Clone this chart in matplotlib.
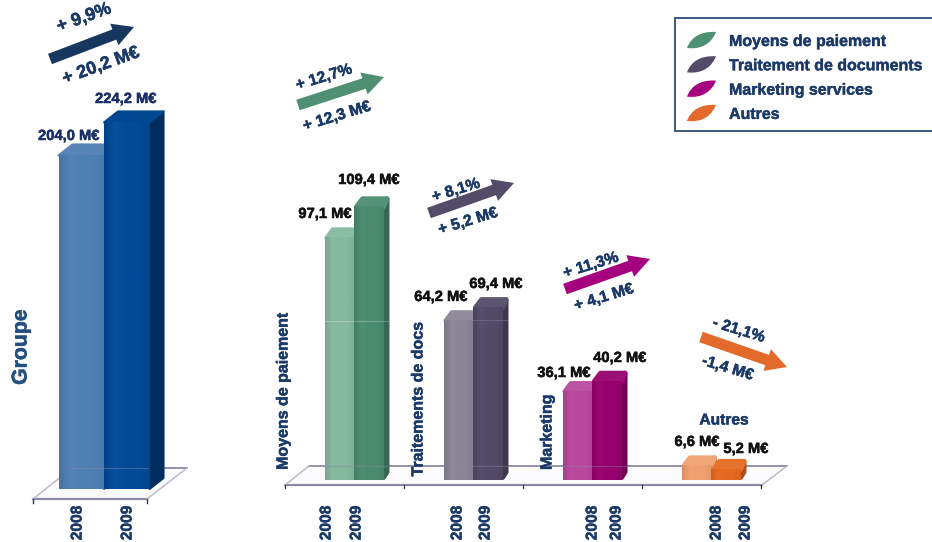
import numpy as np
import matplotlib
matplotlib.use("Agg")
import matplotlib.pyplot as plt
import matplotlib.patheffects as pe
from matplotlib.colors import LinearSegmentedColormap, to_rgb
from matplotlib.patches import Polygon, PathPatch, Rectangle, FancyArrow
from matplotlib.path import Path

plt.rcParams['font.family'] = ['Liberation Sans', 'DejaVu Sans']

# ---- data ----
years = ["2008", "2009"]
group_values = [204.0, 224.2]
group_labels = ["204,0 M€", "224,2 M€"]
segments = ["Moyens de paiement", "Traitements de docs", "Marketing", "Autres"]
values_2008 = [97.1, 64.2, 36.1, 6.6]
values_2009 = [109.4, 69.4, 40.2, 5.2]
labels_2008 = ["97,1 M€", "64,2 M€", "36,1 M€", "6,6 M€"]
labels_2009 = ["109,4 M€", "69,4 M€", "40,2 M€", "5,2 M€"]
legend_names = ["Moyens de paiement", "Traitement de documents", "Marketing services", "Autres"]
delta_pct = ["+ 12,7%", "+ 8,1%", "+ 11,3%", "- 21,1%"]
delta_abs = ["+ 12,3 M€", "+ 5,2 M€", "+ 4,1 M€", "-1,4 M€"]

# ---- style ----
NAVY = "#1b3a68"
W, H = 932, 542
C_2008 = ["#86b8a0", "#8a8596", "#b8489c", "#f0a070"]
C_2009 = ["#4a8b70", "#524a66", "#96006e", "#e5691f"]
C_LEG = ["#4f8f74", "#544b68", "#a5007d", "#e36a2a"]
C_GROUP = ["#4f80b3", "#004a98"]

fig = plt.figure(figsize=(W / 100, H / 100), dpi=100, facecolor="white")


def px_axes(l, r, t, b, z):
    a = fig.add_axes([l / W, (H - b) / H, (r - l) / W, (b - t) / H], zorder=z)
    a.axis("off")
    return a


def shade(c, f):
    c = np.array(to_rgb(c))
    return tuple(np.clip(c * f, 0, 1)) if f <= 1 else tuple(c + (1 - c) * (f - 1))


def bar3d(ax, x0, w, v, col, dx, dy, lw=2.0, zbase=3, side=0.75, topf=1.06, ix=0.0, iy=0.0):
    """Draw one pseudo-3D bar in data units; ix/iy inset the faces so the round stroke rounds the corners."""
    x1 = x0 + w
    ax.bar(x0, v - iy, w, align="edge", color=col, zorder=zbase, linewidth=0, clip_on=False)
    ax.add_patch(Polygon([(x1, iy), (x1 + dx - ix, dy), (x1 + dx - ix, v + dy - iy), (x1, v - iy)],
                         closed=True, fc=shade(col, side), ec=shade(col, side), lw=lw,
                         joinstyle="round", zorder=zbase, clip_on=False))
    ax.add_patch(Polygon([(x0 + ix, v - iy), (x1, v - iy), (x1 + dx - ix, v + dy - iy), (x0 + dx + ix, v + dy - iy)],
                         closed=True, fc=shade(col, topf), ec=shade(col, topf), lw=lw,
                         joinstyle="round", zorder=zbase, clip_on=False))
    cm = LinearSegmentedColormap.from_list(
        "b", [shade(col, 0.9), shade(col, 1.03), col, col, shade(col, 0.95)])
    im = ax.imshow(np.linspace(0, 1, 64)[None, :], extent=(x0, x1, 0, v - iy), cmap=cm,
                   aspect="auto", zorder=zbase + 0.1, origin="lower")
    im.set_clip_on(False)


# ---- overlay in pixel coords for floors (behind) ----
floor = fig.add_axes([0, 0, 1, 1], zorder=0)
floor.set_xlim(0, W); floor.set_ylim(H, 0); floor.axis("off")
FL = "#8d88a6"
floors = ([(33, 499), (147, 499), (187, 468), (72, 468)],
          [(285, 485), (762, 485), (787, 466), (309, 466)])
for pts in floors:
    floor.add_patch(Polygon(pts, closed=True, fc="#fbfbfd", ec="none"))
    floor.plot([pts[3][0], pts[2][0]], [pts[3][1], pts[2][1]], color=FL, lw=1.3)
    floor.plot([pts[0][0], pts[1][0]], [pts[0][1], pts[1][1]], color=FL, lw=1.6)
    floor.plot([pts[0][0], pts[3][0]], [pts[0][1], pts[3][1]], color="#bcbacc", lw=1.1)
    floor.plot([pts[1][0], pts[2][0]], [pts[1][1], pts[2][1]], color="#bcbacc", lw=1.1)
for xt in (33, 147):
    floor.plot([xt, xt], [499, 503], color=NAVY, lw=1.0)
for xt in (285, 404, 523, 642, 761):
    floor.plot([xt, xt], [485, 488], color="#333333", lw=0.9)

# ---- Groupe bars ----
ax_g = px_axes(33, 147, 0, 489, 1)
ax_g.set_xlim(0, 1)
ax_g.set_ylim(0, 489 / 1.635)
gw = 45.5 / 114
gdx, gdy = 14 / 114, 11 / 1.635
gsplit = 71 / 114
for i, v in enumerate(group_values):
    bar3d(ax_g, gsplit - gw + i * gw, gw, v, C_GROUP[i], gdx, gdy, lw=1.5,
          side=0.62, topf=1.04 if i == 0 else 0.95)
ax_g.set_xlim(0, 1); ax_g.set_ylim(0, 489 / 1.635)

# ---- Segment bars ----
ax_s = px_axes(285, 761, 0, 480, 1)
ax_s.set_xlim(0, 4)
ax_s.set_ylim(0, 480 / 2.52)
sw = 29.5 / 119
sdx, sdy = 6 / 119, 8 / 2.52
ssplit = 69 / 119
ix, iy = 2.5 / 119, 2.5 / 2.52
for i in range(len(segments)):
    bar3d(ax_s, i + ssplit - sw, sw, values_2008[i], C_2008[i], sdx, sdy, lw=3.6, ix=ix, iy=iy)
    bar3d(ax_s, i + ssplit, sw, values_2009[i], C_2009[i], sdx, sdy, lw=3.6, zbase=4, ix=ix, iy=iy)
ax_s.set_xlim(0, 4); ax_s.set_ylim(0, 480 / 2.52)

# ---- overlay for text, arrows, legend ----
top = fig.add_axes([0, 0, 1, 1], zorder=5)
top.set_xlim(0, W); top.set_ylim(H, 0); top.axis("off")

# faint floor line and seam seen through the bars
top.plot([72, 148], [468, 468], color=FL, lw=0.8, alpha=0.45, zorder=0.5)
top.plot([325, 388], [466, 466], color=FL, lw=0.8, alpha=0.4, zorder=0.5)
top.plot([444, 507], [466, 466], color=FL, lw=0.8, alpha=0.4, zorder=0.5)
top.plot([563, 626], [466, 466], color=FL, lw=0.8, alpha=0.4, zorder=0.5)
top.plot([325, 388], [321, 321], color="white", lw=0.8, alpha=0.25, zorder=0.5)
top.plot([444, 507], [320, 320], color=FL, lw=0.8, alpha=0.45, zorder=0.5)


def T(x, y, s, size=10.8, color=NAVY, rot=0, weight="bold"):
    top.text(x, y, s, fontsize=size, color=color, rotation=rot, weight=weight,
             ha="center", va="center", rotation_mode="anchor",
             path_effects=[pe.withStroke(linewidth=0.35, foreground=color)])


def arrow(x0, y0, x1, y1, col):
    top.add_patch(FancyArrow(x0, y0, x1 - x0, y1 - y0, width=11, head_width=23,
                             head_length=21, length_includes_head=True,
                             fc=col, ec="none"))


# group arrow + labels
arrow(50, 59, 134, 27, "#17375e")
T(84, 18, "+ 9,9%", 13, rot=20)
T(101, 66, "+ 20,2 M€", 13, rot=20)
T(69, 136, group_labels[0], 10.6, "#1b2f66")
T(126, 99, group_labels[1], 10.6, "#1b2f66")
T(21, 347, "Groupe", 15.3, "#24507f", rot=90)
T(77, 523, years[0], 11.2, rot=90)
T(127, 523, years[1], 11.2, rot=90)

# segment arrows + labels
arrows = [(298, 105, 384, 77), (429, 213, 514, 183), (565, 289, 650, 259), (701, 337, 787, 367)]
pct_pos = [(324, 77, 17), (456, 190, 17), (591, 265, 17), (739, 330, -17)]
abs_pos = [(337, 116, 17), (468, 221, 17), (604, 297, 17), (728, 368, -17)]
for i in range(4):
    arrow(*arrows[i], C_LEG[i])
    T(*pct_pos[i][:2], delta_pct[i], 11.3, rot=pct_pos[i][2])
    T(*abs_pos[i][:2], delta_abs[i], 11.3, rot=abs_pos[i][2])

lab08 = [(325, 214), (441, 297), (564, 373), (697, 442)]
lab09 = [(369, 180), (496, 284), (620, 358), (746, 449)]
for i in range(4):
    T(*lab08[i], labels_2008[i], 10.6, "#111111")
    T(*lab09[i], labels_2009[i], 10.6, "#111111")

T(283, 391, segments[0], 11.5, rot=90)
T(418, 399, segments[1], 11.5, rot=90)
T(547, 432, segments[2], 11.5, rot=90)
T(724, 420, segments[3], 11.2)

ytx = [(326, 356), (457, 485), (592, 616), (716, 745)]
for a, b in ytx:
    T(a, 523, years[0], 11.2, rot=90)
    T(b, 523, years[1], 11.2, rot=90)

# legend
top.add_patch(Rectangle((675, 18), 262, 113, fc="white", ec="#2c4c78", lw=1.3, zorder=1))
for i, name in enumerate(legend_names):
    y = 40 + i * 24.3
    leaf = Path([(687, y + 8), (691, y - 3), (701, y - 9), (716, y - 8),
                 (712, y + 2), (703, y + 10), (687, y + 8), (687, y + 8)],
                [Path.MOVETO, Path.CURVE4, Path.CURVE4, Path.CURVE4,
                 Path.CURVE4, Path.CURVE4, Path.CURVE4, Path.CLOSEPOLY])
    top.add_patch(PathPatch(leaf, fc=C_LEG[i], ec="none", zorder=2))
    top.text(729, y + 1.5, name, fontsize=11.5, weight="bold", color=NAVY, ha="left", va="center", zorder=3,
             path_effects=[pe.withStroke(linewidth=0.3, foreground=NAVY)])

fig.savefig("out.png", dpi=100, facecolor="white")
